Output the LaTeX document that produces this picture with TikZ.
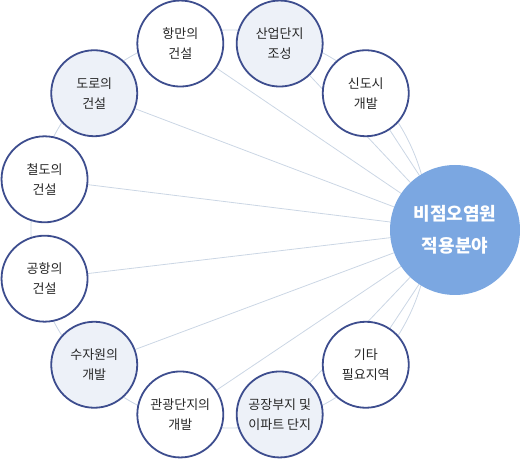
\documentclass[tikz,border=0pt]{standalone}
\usepackage{fontspec}
\newfontfamily\kr{Noto Sans CJK KR}
\usetikzlibrary{backgrounds}

\definecolor{ringline}{HTML}{CBD6E4}
\definecolor{navy}{HTML}{3D4D8E}
\definecolor{paleblue}{HTML}{EDF1F8}
\definecolor{hubblue}{HTML}{7BA7E1}

\tikzset{
    area/.style={circle, draw=navy, line width=1.8pt, fill=white,
        minimum size=86pt, inner sep=0pt, align=center,
        font=\kr\fontsize{13}{20}\selectfont, text=black!85},
    areashade/.style={area, fill=paleblue},
    hub/.style={circle, fill=hubblue, minimum size=130pt, inner sep=0pt,
        align=center, text=white, font=\kr\bfseries\fontsize{18}{32}\selectfont},
    link/.style={ringline, line width=0.8pt}
}

\begin{document}
\begin{tikzpicture}[x=1pt, y=1pt]
    \useasboundingbox (0,0) rectangle (520,460);

    % 비점오염원 적용분야
    \node[hub] (hub) at (455,230) {비점오염원\\적용분야};

    % 적용 분야 원들 (중심 (230,231) 둘레)
    \begin{scope}[shift={(230,231)}]
        \coordinate (O) at (0,0);
        \node[area]      (a1)  at (45:192)  {신도시\\개발};
        \node[areashade] (a2)  at (75:192)  {산업단지\\조성};
        \node[area]      (a3)  at (105:192) {항만의\\건설};
        \node[areashade] (a4)  at (135:192) {도로의\\건설};
        \node[area]      (a5)  at (165:192) {철도의\\건설};
        \node[area]      (a6)  at (195:192) {공항의\\건설};
        \node[areashade] (a7)  at (225:192) {수자원의\\개발};
        \node[area]      (a8)  at (255:192) {관광단지의\\개발};
        \node[areashade] (a9)  at (285:192) {공장부지 및\\이파트 단지};
        \node[area]      (a10) at (315:192) {기타\\필요지역};
    \end{scope}

    % 연결선
    \begin{scope}[on background layer]
        \draw[link] (O) circle (199);
        \foreach \i in {1,...,10}
            \draw[link] (a\i) -- (hub);
    \end{scope}
\end{tikzpicture}
\end{document}
